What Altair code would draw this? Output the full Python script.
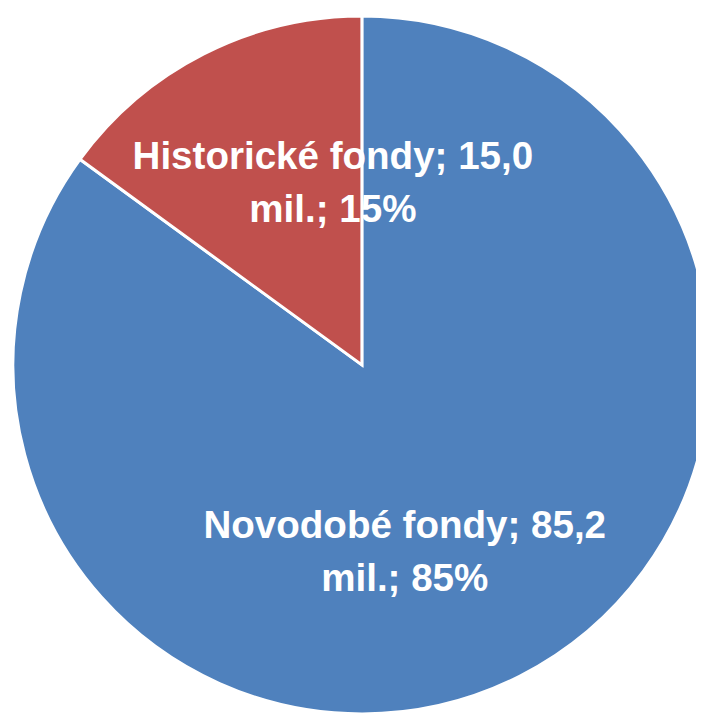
import altair as alt
import pandas as pd

categories = ["Novodobé fondy", "Historické fondy"]
values = [85.2, 15.0]
colors = ["#4F81BD", "#C0504D"]

total = sum(values)
labels = []
for c, v in zip(categories, values):
    pct = round(v / total * 100)
    labels.append(f"{c}; {v:.1f}".replace(".", ",") + f"\nmil.; {pct}%")

df = pd.DataFrame({
    "cat": categories,
    "value": values,
    "label": labels,
    "order": list(range(len(categories))),
})

CX, CY, R = 358, 357, 353

base = alt.Chart(df).encode(
    theta=alt.Theta("value:Q", stack=True),
    order=alt.Order("order:Q"),
    x=alt.value(CX),
    y=alt.value(CY),
)

pie = base.mark_arc(outerRadius=R, stroke="white", strokeWidth=3).encode(
    color=alt.Color("cat:N", scale=alt.Scale(domain=categories, range=colors), legend=None),
)

txt_style = dict(radius=206, fontSize=39, fontWeight="bold", font="Liberation Sans",
                 color="white", align="center", baseline="middle", lineBreak="\n", lineHeight=54)

t_hist = base.mark_text(dx=64, dy=-27, **txt_style).encode(
    text=alt.condition(alt.datum.cat == "Historické fondy", alt.Text("label:N"), alt.value(""))
)
t_nov = base.mark_text(dx=-50, dy=-21, **txt_style).encode(
    text=alt.condition(alt.datum.cat == "Novodobé fondy", alt.Text("label:N"), alt.value(""))
)

chart = alt.layer(pie, t_hist, t_nov).properties(
    width=696, height=705, padding=0, autosize=alt.AutoSizeParams(type="none")
).configure_view(stroke=None)

chart.save("out.html", embed_options={"renderer": "svg", "actions": False})
